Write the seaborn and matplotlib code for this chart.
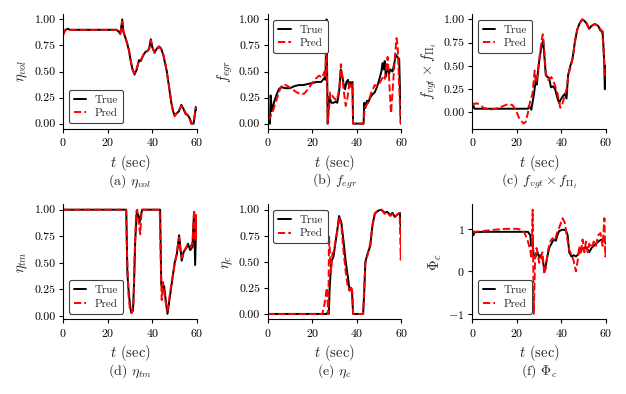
import matplotlib
matplotlib.use('Agg')
import matplotlib.pyplot as plt
import seaborn as sns

# ── data (t in sec)
t_vol_true = [0, 0.5, 1, 2, 3, 6, 10, 15, 20, 24, 25, 25.6, 26.5, 27, 28, 28.6, 29.5, 30.3, 31, 32,
              33, 34, 34.8, 36, 37, 38, 38.6, 39.3, 40, 41, 42, 43, 44, 45, 46, 46.5, 47.5, 48.5, 49.3, 50,
              51, 52, 53, 54, 55, 56, 57, 57.5, 58.5, 59, 59.5, 60]
vol_true = [0.86, 0.88, 0.90, 0.91, 0.90, 0.90, 0.90, 0.90, 0.90, 0.90, 0.88, 0.86, 1.00, 0.88, 0.82, 0.78, 0.70, 0.60, 0.53, 0.47,
            0.52, 0.61, 0.60, 0.66, 0.69, 0.70, 0.72, 0.81, 0.73, 0.68, 0.72, 0.74, 0.72, 0.65, 0.55, 0.50, 0.35, 0.20, 0.12, 0.08,
            0.10, 0.12, 0.18, 0.14, 0.09, 0.08, 0.04, 0.00, 0.00, 0.07, 0.16, 0.13]
t_vol_pred = t_vol_true
vol_pred = [0.85, 0.88, 0.90, 0.91, 0.90, 0.90, 0.90, 0.90, 0.90, 0.90, 0.88, 0.86, 0.98, 0.89, 0.81, 0.77, 0.71, 0.61, 0.52, 0.48,
            0.53, 0.60, 0.61, 0.66, 0.68, 0.70, 0.73, 0.80, 0.74, 0.68, 0.71, 0.74, 0.71, 0.66, 0.56, 0.49, 0.36, 0.21, 0.11, 0.07,
            0.10, 0.13, 0.17, 0.14, 0.10, 0.08, 0.03, 0.00, 0.01, 0.08, 0.15, 0.14]

t_egr_true = [0, 1.0, 1.3, 1.8, 2.5, 3, 4, 5, 6, 8, 10, 12, 14, 16, 18, 20, 22, 24, 25.5, 25.9,
              26.4, 26.9, 27.3, 27.7, 28.5, 29.5, 30.5, 31.2, 32, 32.8, 33.5, 34, 34.7, 35.3, 36, 36.5, 37, 37.5, 38, 38.3,
              43, 43.3, 43.8, 44.5, 45, 46, 47, 48, 49, 50, 51, 51.5, 52, 52.5, 53, 53.8, 54.5, 55, 56, 57,
              57.5, 58.5, 59, 59.7]
egr_true = [0.0, 0.0, 0.27, 0.12, 0.18, 0.22, 0.28, 0.33, 0.35, 0.34, 0.34, 0.36, 0.37, 0.37, 0.38, 0.39, 0.40, 0.40, 0.44, 0.42,
            1.00, 0.0, 0.15, 0.26, 0.20, 0.20, 0.21, 0.20, 0.30, 0.52, 0.45, 0.38, 0.33, 0.40, 0.42, 0.35, 0.40, 0.36, 0.40, 0.0,
            0.0, 0.20, 0.15, 0.22, 0.20, 0.25, 0.28, 0.30, 0.35, 0.42, 0.50, 0.58, 0.52, 0.60, 0.45, 0.55, 0.48, 0.52, 0.50, 0.60,
            0.66, 0.63, 0.62, 0.0]
t_egr_pred = [0, 1, 2, 3.5, 5.5, 7, 9, 11, 13, 15, 16.5, 18, 20, 21.5, 23, 24.5, 25.5, 25.9, 26.3, 26.9,
              27.3, 28, 29.5, 31, 32.2, 32.8, 33.5, 34.2, 35, 35.8, 36.7, 37.5, 38, 38.3, 43, 43.5, 45, 46.5, 48, 49,
              50, 51, 52, 52.6, 53.8, 54.4, 55.3, 56, 57, 57.8, 58.3, 59, 59.7]
egr_pred = [0.03, 0.06, 0.10, 0.20, 0.33, 0.38, 0.36, 0.33, 0.30, 0.28, 0.29, 0.33, 0.39, 0.43, 0.46, 0.44, 0.50, 0.45, 0.90, 0.0,
            0.10, 0.30, 0.25, 0.22, 0.35, 0.57, 0.45, 0.30, 0.17, 0.25, 0.40, 0.35, 0.38, 0.0, 0.0, 0.15, 0.20, 0.30, 0.37, 0.36,
            0.38, 0.42, 0.46, 0.43, 0.64, 0.45, 0.10, 0.30, 0.62, 0.82, 0.75, 0.35, 0.0]

t_vgt_true = [0, 0.5, 1, 3, 6, 10, 15, 20, 24, 25, 25.5, 26.5, 27, 27.7, 28.5, 29, 29.5, 30.3, 31, 31.8,
              32.2, 33, 33.8, 34.5, 35.3, 36.2, 37.2, 38, 39, 39.5, 40.5, 41.5, 42.3, 43, 44, 45, 46, 47, 48, 49.3,
              50.5, 51.5, 52.5, 53.5, 55, 56.5, 57.5, 58.5, 59.2, 59.5, 60]
vgt_true = [0.05, 0.07, 0.04, 0.04, 0.04, 0.04, 0.04, 0.04, 0.04, 0.04, 0.07, 0.03, 0.10, 0.20, 0.35, 0.30, 0.45, 0.60, 0.70, 0.78,
            0.65, 0.40, 0.38, 0.37, 0.27, 0.28, 0.25, 0.17, 0.10, 0.13, 0.17, 0.20, 0.15, 0.40, 0.50, 0.58, 0.75, 0.88, 0.95, 1.00,
            0.98, 0.95, 0.90, 0.93, 0.95, 0.93, 0.88, 0.87, 0.55, 0.25, 0.50]
t_vgt_pred = [0, 1, 2, 3.5, 5, 8, 10.5, 13, 16, 18, 19.5, 21, 23, 24, 25, 26, 27, 28, 28.5, 29.3,
              30.3, 31, 31.6, 32.2, 33, 34, 35.5, 37, 38.3, 39.5, 40.3, 41.5, 42.3, 43.3, 44.5, 45.2, 46.2, 47.2, 48.5, 49.5,
              51, 52.3, 53.5, 55, 56.5, 58, 58.8, 59.5, 60]
vgt_pred = [0.10, 0.09, 0.10, 0.08, 0.05, 0.03, 0.04, 0.06, 0.09, 0.08, 0.03, -0.06, -0.12, -0.10, 0.00, 0.12, 0.20, 0.45, 0.32, 0.40,
            0.62, 0.75, 0.84, 0.70, 0.42, 0.35, 0.38, 0.30, 0.20, 0.05, 0.08, 0.18, 0.25, 0.42, 0.52, 0.60, 0.78, 0.90, 0.97, 1.00,
            0.97, 0.90, 0.93, 0.95, 0.93, 0.88, 0.75, 0.38, 0.40]

t_tm_true = [0, 10, 20, 28.3, 28.8, 29.3, 30, 30.5, 31.3, 31.8, 32.3, 33, 33.7, 34.3, 35.2, 35.5, 40, 43.5, 44, 44.7,
             45.3, 46, 46.8, 48, 49, 50, 51, 52, 52.7, 53.2, 54, 55.5, 56, 57, 58, 58.7, 59.2, 59.7, 60]
tm_true = [1.0, 1.0, 1.0, 1.0, 0.40, 0.25, 0.10, 0.03, 0.05, 0.30, 0.70, 0.98, 0.95, 0.88, 0.98, 1.0, 1.0, 1.0, 0.30, 0.25,
           0.28, 0.15, 0.02, 0.20, 0.35, 0.50, 0.58, 0.76, 0.62, 0.52, 0.60, 0.65, 0.68, 0.62, 0.65, 0.98, 0.48, 0.90, 0.80]
t_tm_pred = [0, 10, 20, 28.2, 28.6, 29.3, 30, 30.8, 31.5, 32, 32.7, 33.2, 34, 34.6, 35.2, 40, 43.3, 43.8, 44.2, 44.8,
             45.5, 46.2, 46.8, 47.5, 48.5, 50, 51, 52, 52.8, 53.3, 54.5, 55.5, 56.5, 57.5, 58, 58.8, 59.3, 59.7, 60]
tm_pred = [1.0, 1.0, 1.0, 1.0, 0.60, 0.20, 0.05, 0.03, 0.10, 0.55, 0.98, 1.0, 0.85, 0.77, 1.0, 1.0, 1.0, 0.50, 0.15, 0.32,
           0.20, 0.10, 0.05, 0.15, 0.30, 0.48, 0.60, 0.74, 0.58, 0.55, 0.62, 0.66, 0.68, 0.65, 0.70, 1.0, 0.70, 0.95, 0.75]

t_c_true = [0, 10, 20, 26.5, 27, 27.4, 27.8, 28.5, 29.5, 30.5, 31.5, 32, 33, 34, 35, 36, 36.7, 37.3, 37.8, 38.3,
            40, 42.8, 43.3, 43.8, 44.8, 46, 47, 48, 49.5, 51, 52.5, 53.5, 55, 56, 57, 58.5, 59.3, 60]
c_true = [0, 0, 0, 0, 0.02, 0.0, 0.25, 0.50, 0.55, 0.70, 0.85, 0.94, 0.88, 0.70, 0.50, 0.35, 0.23, 0.25, 0.22, 0.0,
          0.0, 0.0, 0.20, 0.50, 0.58, 0.65, 0.85, 0.96, 0.99, 1.0, 0.97, 0.98, 0.95, 0.97, 0.93, 0.96, 0.97, 0.70]
t_c_pred = [0, 10, 20, 24.5, 25.5, 26.5, 27.2, 27.5, 28, 28.4, 29, 29.7, 30.5, 31.3, 32, 33, 34, 35, 36, 36.8,
            37.5, 38, 38.3, 40, 42.8, 43.3, 43.8, 45, 46, 47, 48.2, 49.5, 51, 52.5, 53.5, 55, 56, 57, 58.5, 59.2,
            59.7, 60]
c_pred = [0, 0, 0, 0, 0.10, 0.25, 0.0, 0.75, 0.55, 0.40, 0.58, 0.60, 0.72, 0.80, 0.93, 0.85, 0.60, 0.40, 0.25, 0.22,
          0.27, 0.20, 0.0, 0.0, 0.0, 0.25, 0.48, 0.58, 0.68, 0.85, 0.97, 0.99, 1.0, 0.96, 0.97, 0.94, 0.96, 0.93, 0.96, 0.97,
          0.52, 0.85]

t_phi_true = [0, 0.5, 1, 5, 10, 15, 20, 25, 26, 26.5, 27, 27.5, 28.5, 29.3, 30, 30.7, 31.5, 32, 32.7, 33.5,
              34.5, 35.5, 36.5, 37.5, 38.2, 39, 40.5, 42, 42.8, 43.5, 44.5, 45.5, 46.5, 47.5, 48.5, 50, 51, 52, 52.5, 53.5,
              54.5, 55.5, 56.5, 58, 59, 60]
phi_true = [0.92, 0.85, 0.92, 0.93, 0.93, 0.93, 0.93, 0.93, 0.85, 0.60, 0.75, 0.40, 0.35, 0.45, 0.35, 0.38, 0.30, 0.15, 0.03, 0.30,
            0.55, 0.65, 0.75, 0.72, 0.85, 0.95, 0.98, 0.97, 0.85, 0.45, 0.35, 0.38, 0.35, 0.40, 0.50, 0.55, 0.55, 0.50, 0.45, 0.55,
            0.60, 0.65, 0.70, 0.75, 0.72, 0.65]
t_phi_pred = [0, 1, 5, 10, 15, 20, 22, 23.5, 25, 26, 26.6, 27.1, 27.6, 28.2, 28.8, 29.5, 30, 30.8, 31.5, 32.3,
              33, 34, 35, 36, 37, 38, 39.5, 40.5, 41.5, 42.5, 43.5, 44.5, 45.5, 46.5, 47.3, 48, 48.8, 49.5, 50.3, 51,
              51.8, 52.5, 53.5, 54.5, 55.5, 56.5, 57.5, 58.5, 59.3, 59.7, 60]
phi_pred = [0.95, 0.93, 0.95, 0.98, 1.0, 1.0, 0.98, 0.90, 0.70, 0.50, 0.30, 1.45, -1.0, 0.30, 0.55, 0.40, 0.20, 0.35, 0.45, -0.07,
            0.10, 0.50, 0.70, 0.78, 0.72, 0.90, 1.10, 1.25, 1.15, 0.80, 0.50, 0.40, 0.25, 0.0, 0.25, 0.60, 0.40, 0.75, 0.45, 0.70,
            0.45, 0.65, 0.55, 0.70, 0.60, 0.85, 0.90, 0.60, 1.25, 0.35, 0.45]

ylabels = [r'$\eta_{vol}$', r'$f_{egr}$', r'$f_{vgt}\times f_{\Pi_t}$',
           r'$\eta_{tm}$', r'$\eta_c$', r'$\Phi_c$']
captions = [r'(a) $\eta_{vol}$', r'(b) $f_{egr}$', r'(c) $f_{vgt}\times f_{\Pi_t}$',
            r'(d) $\eta_{tm}$', r'(e) $\eta_c$', r'(f) $\Phi_c$']
legend_locs = ['lower left', 'upper left', 'upper left', 'lower left', 'upper left', 'lower left']

panels = [
    (t_vol_true, vol_true, t_vol_pred, vol_pred),
    (t_egr_true, egr_true, t_egr_pred, egr_pred),
    (t_vgt_true, vgt_true, t_vgt_pred, vgt_pred),
    (t_tm_true, tm_true, t_tm_pred, tm_pred),
    (t_c_true, c_true, t_c_pred, c_pred),
    (t_phi_true, phi_true, t_phi_pred, phi_pred),
]

sns.set_style('ticks')
plt.rcParams['font.family'] = 'cmr10'
plt.rcParams['mathtext.fontset'] = 'cm'
plt.rcParams['axes.formatter.use_mathtext'] = True
plt.rcParams['axes.edgecolor'] = 'black'
plt.rcParams['xtick.color'] = 'black'
plt.rcParams['ytick.color'] = 'black'
plt.rcParams['xtick.major.size'] = 3
plt.rcParams['ytick.major.size'] = 3

fig, axes = plt.subplots(2, 3, figsize=(6.26, 3.94), dpi=100)
fig.subplots_adjust(left=0.101, right=0.968, bottom=0.190, top=0.964, wspace=0.53, hspace=0.66)

for i, ax in enumerate(axes.flat):
    tt, yt, tp, yp = panels[i]
    sns.lineplot(x=tt, y=yt, ax=ax, color='black', lw=1.4, label='True', sort=False, estimator=None)
    sns.lineplot(x=tp, y=yp, ax=ax, color='red', lw=1.4, ls='--', label='Pred', sort=False, estimator=None)
    ax.set_xlim(0, 60)
    ax.set_xticks([0, 20, 40, 60])
    if i == 5:
        ax.set_yticks([-1, 0, 1])
    else:
        ax.set_yticks([0, 0.25, 0.5, 0.75, 1.0])
        ax.yaxis.set_major_formatter(matplotlib.ticker.FormatStrFormatter('%.2f'))
    ax.tick_params(labelsize=8.5, width=0.8, pad=2.5)
    ax.set_xlabel(r'$t$ (sec)', fontsize=10.5, labelpad=3)
    ax.set_ylabel(ylabels[i], fontsize=10.5, labelpad=3)
    ax.text(0.5, -0.455, captions[i], transform=ax.transAxes, ha='center', va='center', fontsize=10)
    leg = ax.legend(loc=legend_locs[i], fontsize=8, handlelength=1.1, handletextpad=0.8, frameon=True,
                    framealpha=1, edgecolor='0.25', borderpad=0.45, labelspacing=0.35)
    leg.get_frame().set_linewidth(0.8)
    sns.despine(ax=ax)

fig.savefig('out.png', dpi=100)
